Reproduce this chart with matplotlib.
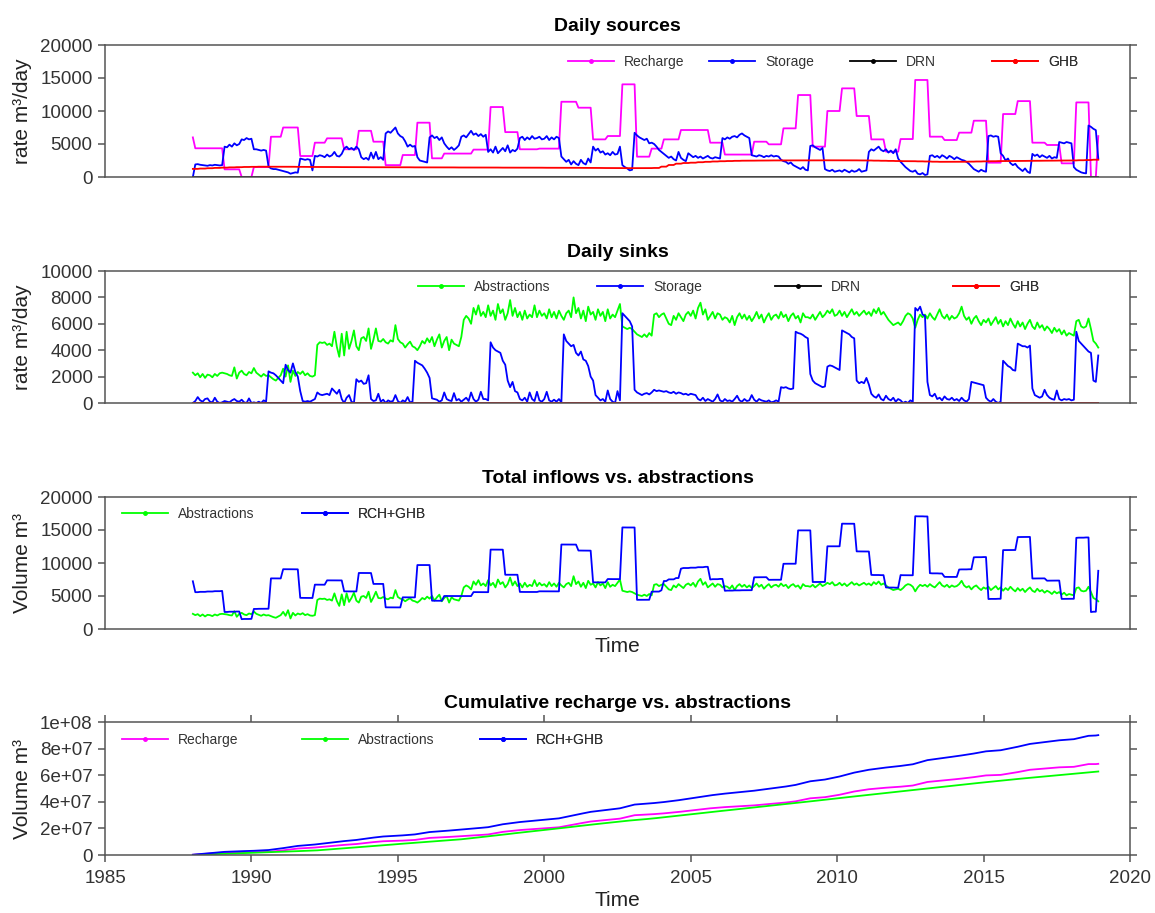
import numpy as np
import matplotlib
matplotlib.use("Agg")
import matplotlib.pyplot as plt
from matplotlib.lines import Line2D

plt.rcParams['font.family'] = ['Liberation Sans', 'DejaVu Sans']

# ---------------------------------------------------------------------------
# Monthly water balance, Jan 1988 - Dec 2018 (m3/day)
# ---------------------------------------------------------------------------
start_year = 1988
n_months = 372

# Recharge is applied per stress period: (number of months, rate)
rch_period_months = [1, 12, 7, 5, 7, 5, 7, 6, 5, 7, 6, 6, 5, 7, 6, 6, 5, 12, 7, 6,
                     6, 8, 9, 7, 6, 6, 6, 6, 6, 5, 7, 12, 6, 12, 6, 6, 6, 6, 6, 6,
                     6, 6, 6, 6, 6, 6, 6, 6, 6, 6, 6, 6, 6, 6, 6, 6, 6, 3, 1]
rch_period_rate = [6000, 4350, 1160, 0, 1500, 6100, 7500, 3180, 5200, 5860,
                   4200, 7000, 5350, 1800, 3330, 8230, 2830, 3550, 4150, 10600,
                   6800, 4200, 4300, 11400, 10500, 5700, 6210, 14040, 3080, 4300,
                   5700, 7120, 5200, 3400, 5350, 4950, 7370, 12420, 4600, 10000,
                   13430, 9240, 5700, 3840, 5750, 14700, 6110, 5600, 6720, 8530,
                   2170, 9540, 11500, 5200, 4850, 2070, 11300, 0, 6200]

# General head boundary inflow, quarterly
ghb_quarterly = [
    1230, 1280, 1330, 1380,  1420, 1460, 1490, 1520,  1540, 1560, 1570, 1570,
    1560, 1550, 1540, 1530,  1520, 1520, 1510, 1510,  1500, 1500, 1490, 1490,
    1480, 1480, 1480, 1470,  1470, 1470, 1460, 1460,  1460, 1450, 1450, 1450,
    1440, 1440, 1440, 1430,  1430, 1430, 1420, 1420,  1420, 1410, 1410, 1410,
    1400, 1400, 1400, 1390,  1390, 1380, 1370, 1370,  1360, 1350, 1350, 1340,
    1340, 1340, 1350, 1370,  1570, 1820, 2020, 2120,  2170, 2240, 2300, 2350,
    2390, 2420, 2450, 2470,  2480, 2490, 2500, 2510,  2510, 2520, 2520, 2520,
    2520, 2520, 2530, 2530,  2530, 2520, 2520, 2510,  2500, 2480, 2460, 2440,
    2420, 2400, 2390, 2370,  2350, 2320, 2300, 2290,  2290, 2310, 2330, 2350,
    2370, 2390, 2410, 2420,  2430, 2440, 2450, 2460,  2470, 2480, 2490, 2500,
    2510, 2540, 2570, 2620]

storage_in = [
    0, 1900, 1950, 1850, 1800, 1750, 1700, 1800, 1750, 1850, 1800, 1750,
    1800, 4600, 4500, 4900, 4600, 5100, 4800, 5000, 5700, 5600, 5900, 5700,
    5800, 4200, 4200, 4100, 4000, 4100, 4000, 1600, 1300, 1200, 1200, 1100,
    1000, 900, 800, 700, 500, 600, 700, 650, 2800, 2700, 2600, 2700,
    2600, 1000, 3200, 3100, 3300, 3200, 3000, 3400, 3100, 3300, 3800, 3200,
    3100, 3500, 4300, 4600, 4200, 4400, 4100, 4600, 4200, 3000, 2700, 2900,
    2600, 3700, 2800, 3800, 2700, 3000, 2600, 6600, 6900, 6700, 7100, 7500,
    6600, 6200, 6000, 5400, 4600, 4900, 4600, 4700, 3000, 2500, 2400, 2300,
    2200, 6000, 6300, 5900, 6100, 5600, 6000, 5100, 4600, 4200, 4500, 4100,
    4400, 4800, 6100, 6300, 6000, 6500, 7000, 6400, 6600, 6200, 6500, 6100,
    6400, 3800, 4200, 3700, 4600, 3600, 4000, 4400, 3900, 4800, 3700, 4100,
    3900, 4300, 5900, 6100, 5600, 6000, 5700, 6200, 5800, 5900, 6100, 5700,
    5800, 6200, 5600, 6000, 5700, 6100, 5900, 3100, 2700, 2300, 2600, 1900,
    2400, 2000, 1800, 2600, 2100, 1900, 2800, 2200, 4600, 4000, 4300, 3700,
    3900, 3400, 3600, 3300, 3800, 3400, 3500, 4600, 1800, 1500, 1300, 1000,
    1100, 6700, 6300, 6000, 5800, 5600, 5800, 5100, 5200, 5000, 4600, 4100,
    3800, 3500, 3200, 2900, 3100, 2700, 2500, 3800, 2900, 2600, 2400, 3600,
    3300, 3000, 3200, 2900, 3100, 2800, 3000, 3200, 2900, 2800, 3000, 2900,
    2800, 5900, 5700, 6000, 5800, 6100, 6200, 6000, 6400, 6600, 6300, 6100,
    5900, 3300, 3200, 3100, 3300, 3200, 3000, 3200, 3100, 3300, 3100, 3200,
    3100, 2600, 2400, 2300, 2000, 2200, 1800, 1600, 1400, 1200, 1500, 1100,
    1000, 4700, 4800, 4500, 4300, 4100, 4400, 1200, 1000, 900, 1100, 800,
    900, 1000, 800, 1100, 900, 700, 1000, 800, 900, 1200, 800, 900,
    1000, 3800, 4200, 4000, 4300, 4600, 4100, 3900, 4200, 3700, 4000, 3600,
    4200, 2800, 2300, 1900, 1500, 1200, 900, 800, 1000, 500, 400, 600,
    300, 400, 3200, 3300, 3000, 3200, 2900, 3300, 3100, 2800, 3200, 3000,
    2700, 3000, 2800, 2600, 2500, 2300, 2000, 1600, 1200, 1000, 800, 1100,
    900, 800, 6200, 6300, 6100, 6200, 6100, 3600, 3200, 2500, 2800, 2100,
    1800, 2000, 1500, 1200, 900, 1300, 800, 600, 3500, 3200, 3400, 3000,
    3300, 3100, 2900, 3200, 2800, 3000, 2900, 5300, 5200, 5100, 5300, 5200,
    5100, 1500, 1100, 900, 700, 600, 550, 7800, 7600, 7300, 7100, 2800]

abstractions = [
    2300, 2100, 2250, 1950, 2200, 1900, 2150, 2100, 1950, 2200, 2050, 2250,
    2300, 2250, 2200, 2100, 2050, 2700, 1850, 2300, 2450, 2200, 2100, 2350,
    2250, 2650, 2300, 2150, 2000, 2200, 2050, 2100, 1950, 1800, 1700, 1900,
    2100, 2600, 2000, 2850, 1600, 2450, 2050, 2350, 2200, 2400, 2100, 2250,
    2050, 2000, 2100, 4400, 4600, 4550, 4600, 4400, 4500, 4300, 5400, 4250,
    3500, 5250, 3600, 5400, 4100, 4700, 5500, 4300, 4000, 4900, 5000, 4700,
    5650, 4100, 4800, 5650, 4700, 4650, 4850, 4600, 4500, 4750, 4650, 5900,
    4850, 4600, 4500, 4200, 4450, 4650, 4300, 4200, 4000, 4300, 4700, 4500,
    4900, 4600, 5000, 4300, 4800, 5200, 4200, 4700, 5000, 4000, 4800, 4500,
    4400, 4300, 5000, 6300, 6600, 6400, 6000, 7200, 6700, 7400, 6600, 6900,
    6500, 7400, 6600, 7000, 6300, 7500, 6800, 7100, 6300, 6800, 7800, 6600,
    7200, 6500, 6900, 6300, 7000, 6400, 6700, 6500, 7400, 6500, 7000, 6600,
    6800, 6400, 7100, 6500, 6900, 6400, 7000, 6600, 6300, 6800, 7000, 6500,
    8000, 6800, 7200, 6400, 7000, 6200, 7300, 6700, 6900, 6300, 7100, 6600,
    6900, 6200, 7100, 6400, 6700, 6500, 7000, 7500, 5800, 5700, 5600, 5700,
    5600, 5400, 5200, 5100, 5000, 5200, 5000, 5300, 5100, 6700, 6800, 6500,
    6700, 6800, 6400, 6000, 5900, 6600, 6300, 6800, 6500, 6200, 6700, 6900,
    6600, 7000, 6400, 7200, 7600, 6700, 7100, 6300, 6600, 6900, 6400, 6800,
    6700, 6300, 6500, 6400, 6100, 6600, 5900, 6500, 6800, 6400, 6700, 6300,
    6600, 6200, 6500, 6900, 6400, 6700, 6100, 6500, 6800, 6300, 6600, 6700,
    6400, 6900, 6500, 6700, 6200, 6600, 6800, 6400, 6600, 6100, 6800, 6500,
    6500, 6400, 6700, 6300, 6600, 6900, 6500, 6700, 7000, 6800, 7100, 6600,
    6700, 7000, 6600, 6900, 6500, 6800, 7100, 6700, 6900, 6600, 6800, 7000,
    6700, 6900, 6600, 7100, 6800, 7200, 6700, 6900, 6600, 6300, 6100, 5900,
    6000, 6100, 5900, 6200, 6600, 6800, 6700, 6400, 5700, 6300, 6700, 6500,
    6700, 6400, 6800, 6500, 6300, 6700, 7100, 6600, 6400, 6700, 6300, 6600,
    6400, 6500, 6800, 7300, 6600, 6300, 6500, 6000, 6400, 6600, 6200, 5900,
    6300, 6100, 6400, 5900, 6200, 6500, 6000, 6300, 5800, 6200, 5900, 6400,
    6000, 5700, 6200, 5800, 6100, 5600, 6000, 6300, 5800, 5600, 6100, 5700,
    5900, 5500, 5800, 5600, 5300, 5700, 5400, 5600, 5200, 5500, 5100, 5300,
    5200, 5100, 6200, 6300, 5800, 5700, 5800, 6400, 5600, 4700, 4500, 4200]

storage_out = [
    0, 150, 450, 200, 100, 300, 350, 100, 50, 400, 100, 0,
    50, 150, 100, 50, 200, 300, 150, 100, 250, 50, 0, 350,
    0, 50, 0, 100, 0, 200, 100, 2400, 2300, 2250, 2100, 1900,
    1700, 1500, 2900, 2500, 2300, 3000, 2350, 2000, 900, 150, 100, 150,
    100, 200, 300, 800, 650, 600, 650, 700, 600, 1100, 900, 700,
    1000, 300, 0, 400, 600, 100, 0, 1800, 1600, 1700, 1450, 1500,
    2100, 300, 150, 200, 700, 100, 250, 0, 200, 100, 150, 600,
    150, 0, 200, 100, 450, 50, 100, 3200, 3050, 2950, 2850, 2600,
    2300, 1900, 350, 300, 250, 100, 200, 800, 300, 200, 150, 750,
    200, 300, 100, 250, 400, 150, 800, 300, 100, 250, 850, 300,
    300, 200, 4600, 4200, 4000, 3900, 3800, 3200, 2900, 1700, 1200, 1600,
    900, 800, 300, 200, 400, 100, 800, 300, 150, 850, 200, 100,
    300, 850, 200, 100, 250, 100, 300, 50, 5200, 4700, 4500, 4300,
    4400, 3800, 3600, 3900, 3300, 3200, 2800, 2000, 1700, 600, 400, 200,
    300, 100, 950, 300, 100, 0, 900, 200, 6800, 6600, 6400, 6200,
    5800, 1000, 800, 700, 600, 700, 750, 650, 800, 1000, 900, 950,
    900, 850, 900, 800, 750, 850, 700, 800, 750, 650, 700, 600,
    700, 650, 600, 300, 200, 400, 150, 300, 200, 100, 300, 650,
    200, 100, 300, 150, 200, 100, 300, 550, 200, 100, 300, 150,
    200, 600, 250, 100, 300, 200, 150, 100, 200, 50, 100, 200,
    100, 1200, 1150, 1200, 1100, 1050, 1100, 5400, 5300, 5250, 5150, 5000,
    4900, 2200, 1700, 1500, 1400, 1300, 1200, 1250, 2750, 2850, 2800, 2700,
    2600, 2500, 5500, 5400, 5300, 5200, 5000, 4900, 1700, 1500, 1600, 1500,
    1900, 1400, 700, 500, 400, 650, 300, 200, 550, 300, 200, 400,
    100, 300, 200, 0, 100, 0, 200, 100, 7200, 7000, 7300, 6700,
    6600, 1600, 600, 500, 700, 300, 400, 200, 500, 300, 250, 400,
    200, 300, 150, 400, 200, 100, 300, 1600, 1550, 1500, 1450, 1400,
    1350, 400, 200, 100, 300, 100, 0, 100, 3200, 3000, 2800, 2700,
    2500, 2450, 4500, 4400, 4300, 4300, 4200, 4350, 1100, 600, 500, 400,
    500, 1000, 600, 400, 300, 250, 950, 300, 200, 300, 250, 300,
    200, 250, 5400, 4700, 4500, 4300, 4100, 3900, 3800, 1700, 1600, 3600]

# Drains carry no flow in either direction, GHB has no outflow
drn_in = [0] * n_months
drn_out = [0] * n_months
ghb_out = [0] * n_months

# ---------------------------------------------------------------------------
months = np.arange(n_months)
t = start_year + months / 12.0
recharge = np.repeat(rch_period_rate, rch_period_months).astype(float)
ghb_in = np.repeat(ghb_quarterly, 3).astype(float)
abstr = np.asarray(abstractions, dtype=float)
rch_ghb = recharge + ghb_in

days_per_month = 365.25 / 12.0
cum_rch = np.cumsum(recharge) * days_per_month
cum_abs = np.cumsum(abstr) * days_per_month
cum_rch_ghb = np.cumsum(rch_ghb) * days_per_month

MAGENTA = '#ff00ff'
BLUE = '#0000ff'
GREEN = '#00ff00'
RED = '#ff0000'
BLACK = '#000000'
LW = 1.3
FRAME = '#555555'
TXT = '#333333'

fig = plt.figure(figsize=(11.55, 9.13), dpi=100)
left, width = 105 / 1155, 1025 / 1155


def panel(top_px, bottom_px):
    return fig.add_axes([left, 1 - bottom_px / 913, width, (bottom_px - top_px) / 913])


def style(ax, yticks, ylabels, ylabel, title, bottom_axis=False):
    ax.set_xlim(1985, 2020)
    ax.set_ylim(yticks[0], yticks[-1])
    ax.set_yticks(yticks)
    ax.set_yticklabels(ylabels)
    for s in ax.spines.values():
        s.set_color(FRAME)
        s.set_linewidth(1.1)
    ax.tick_params(axis='y', which='both', direction='out', left=True, right=True,
                   labelleft=True, labelright=False, length=5, width=1.1,
                   color=FRAME, labelsize=13.5, labelcolor=TXT, pad=4)
    if bottom_axis:
        ax.set_xticks([1985, 1990, 1995, 2000, 2005, 2010, 2015, 2020])
        ax.tick_params(axis='x', direction='out', bottom=True, top=True,
                       labelbottom=True, length=5, width=1.1, color=FRAME,
                       labelsize=13.5, labelcolor=TXT, pad=6)
    else:
        ax.tick_params(axis='x', bottom=False, top=False, labelbottom=False)
    ax.set_ylabel(ylabel, fontsize=15, color='#222222')
    ax.yaxis.set_label_coords(-0.071, 0.5)
    ax.set_title(title, fontsize=14, fontweight='bold', pad=10)


def key(ax, entries, y_frac):
    for label, color, x_px in entries:
        h = Line2D([], [], color=color, lw=LW, marker='o', markersize=2.5)
        leg = ax.legend([h], [label], loc='center left',
                        bbox_to_anchor=((x_px - 105) / 1025, y_frac),
                        frameon=False, fontsize=10, handlelength=3.3,
                        handletextpad=0.75, borderpad=0, borderaxespad=0,
                        numpoints=1, labelcolor=TXT)
        ax.add_artist(leg)


# Daily sources
ax1 = panel(45, 177)
ax1.plot(t, recharge, color=MAGENTA, lw=LW)
ax1.plot(t, storage_in, color=BLUE, lw=LW)
ax1.plot(t, drn_in, color=BLACK, lw=LW)
ax1.plot(t, ghb_in, color=RED, lw=LW)
style(ax1, [0, 5000, 10000, 15000, 20000], ['0', '5000', '10000', '15000', '20000'],
      'rate m³/day', 'Daily sources')
key(ax1, [('Recharge', MAGENTA, 568), ('Storage', BLUE, 709),
          ('DRN', BLACK, 850), ('GHB', RED, 992)], 0.871)

# Daily sinks
ax2 = panel(271, 403)
ax2.plot(t, abstr, color=GREEN, lw=LW)
ax2.plot(t, storage_out, color=BLUE, lw=LW)
ax2.plot(t, drn_out, color=BLACK, lw=LW)
ax2.plot(t, ghb_out, color=RED, lw=LW)
style(ax2, [0, 2000, 4000, 6000, 8000, 10000],
      ['0', '2000', '4000', '6000', '8000', '10000'],
      'rate m³/day', 'Daily sinks')
key(ax2, [('Abstractions', GREEN, 418), ('Storage', BLUE, 597),
          ('DRN', BLACK, 775), ('GHB', RED, 953)], 0.879)

# Total inflows vs. abstractions
ax3 = panel(497, 629)
ax3.plot(t, abstr, color=GREEN, lw=LW)
ax3.plot(t, rch_ghb, color=BLUE, lw=LW)
style(ax3, [0, 5000, 10000, 15000, 20000], ['0', '5000', '10000', '15000', '20000'],
      'Volume m³', 'Total inflows vs. abstractions')
ax3.set_xlabel('Time', fontsize=15, color='#222222', labelpad=6)
key(ax3, [('Abstractions', GREEN, 122), ('RCH+GHB', BLUE, 302)], 0.871)

# Cumulative recharge vs. abstractions
ax4 = panel(722, 855)
ax4.plot(t, cum_rch, color=MAGENTA, lw=LW)
ax4.plot(t, cum_abs, color=GREEN, lw=LW)
ax4.plot(t, cum_rch_ghb, color=BLUE, lw=LW)
style(ax4, [0, 2e7, 4e7, 6e7, 8e7, 1e8],
      ['0', '2e+07', '4e+07', '6e+07', '8e+07', '1e+08'],
      'Volume m³', 'Cumulative recharge vs. abstractions', bottom_axis=True)
ax4.set_xlabel('Time', fontsize=15, color='#222222', labelpad=3)
key(ax4, [('Recharge', MAGENTA, 122), ('Abstractions', GREEN, 302),
          ('RCH+GHB', BLUE, 480)], 0.865)

fig.savefig('out.png', dpi=100)
